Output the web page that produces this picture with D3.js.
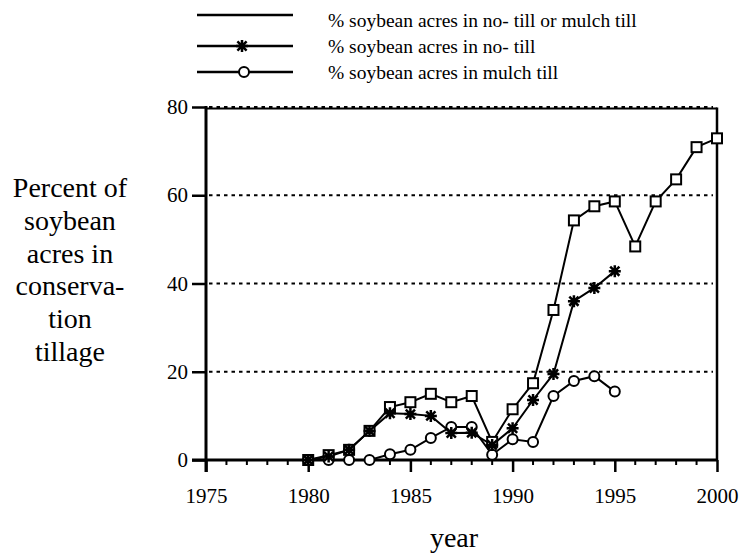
<!DOCTYPE html>
<html>
<head>
<meta charset="utf-8">
<script src="https://cdn.jsdelivr.net/npm/d3@7"></script>
<style>
  html, body { margin: 0; padding: 0; background: #fff; }
  svg { display: block; }
</style>
</head>
<body>
<script>
// ---- Data ----
const years = [1980,1981,1982,1983,1984,1985,1986,1987,1988,1989,1990,1991,1992,1993,1994,1995,1996,1997,1998,1999,2000];
const totalTill = [0,1.1,2.3,6.6,12,13.1,15,13.1,14.5,4.1,11.5,17.4,34,54.3,57.5,58.6,48.4,58.6,63.6,70.9,72.9];
const noTillYears = [1980,1981,1982,1983,1984,1985,1986,1987,1988,1989,1990,1991,1992,1993,1994,1995];
const noTill = [0,0.8,2.3,6.6,10.6,10.4,10,6.1,6.2,3.4,7.2,13.6,19.5,36,39,42.8];
const mulchYears = [1980,1981,1982,1983,1984,1985,1986,1987,1988,1989,1990,1991,1992,1993,1994,1995];
const mulchTill = [0,0,0,0,1.3,2.3,5,7.5,7.5,1.2,4.7,4.1,14.5,17.9,19,15.5];
const xTicks = [1975,1980,1985,1990,1995,2000];
const yTicks = [0,20,40,60,80];
const legendLabels = ["% soybean acres in no- till or mulch till","% soybean acres in no- till","% soybean acres in mulch till"];
const yTitleLines = ["Percent of","soybean","acres in","conserva-","tion","tillage"];
const xTitle = "year";

// ---- Layout ----
const W = 746, H = 553;
const FONT = "Liberation Serif";
const svg = d3.select("body").append("svg").attr("width", W).attr("height", H);
svg.append("rect").attr("width", W).attr("height", H).attr("fill", "#fff");

const x = d3.scaleLinear().domain([1975, 2000]).range([206, 717]);
const y = d3.scaleLinear().domain([0, 80]).range([460, 107]);

// gridlines (dashed)
svg.append("g").selectAll("line").data(yTicks.filter(d => d > 0)).join("line")
  .attr("x1", x(1975) + 3).attr("x2", x(2000) - 4)
  .attr("y1", d => y(d)).attr("y2", d => y(d))
  .attr("stroke", "#000").attr("stroke-width", 2.2).attr("stroke-dasharray", "3.5,4");

// frame top and right
svg.append("line").attr("x1", x(1975)).attr("x2", x(2000)).attr("y1", y(80) + 1.5).attr("y2", y(80) + 1.5)
  .attr("stroke", "#000").attr("stroke-width", 2);
svg.append("line").attr("x1", x(2000)).attr("x2", x(2000)).attr("y1", y(80) + 0.5).attr("y2", y(0))
  .attr("stroke", "#000").attr("stroke-width", 2.5);

// Y axis
const yAxis = d3.axisLeft(y).tickValues(yTicks).tickSize(14).tickPadding(4).tickFormat(d3.format("d"));
const gy = svg.append("g").attr("transform", `translate(${x(1975)},0)`).call(yAxis);
gy.select(".domain").remove();
gy.selectAll(".tick line").attr("stroke-width", 2.5);
gy.selectAll(".tick text").style("font-family", FONT).style("font-size", "21px").attr("fill", "#000");
svg.append("line").attr("x1", x(1975)).attr("x2", x(1975)).attr("y1", y(80) - 1).attr("y2", y(0) + 12)
  .attr("stroke", "#000").attr("stroke-width", 3);

// X axis (major)
const xAxis = d3.axisBottom(x).tickValues(xTicks).tickSize(12).tickPadding(16).tickFormat(d3.format("d"));
const gx = svg.append("g").attr("transform", `translate(0,${y(0)})`).call(xAxis);
gx.select(".domain").remove();
gx.selectAll(".tick line").attr("stroke-width", 2.5);
gx.selectAll(".tick text").style("font-family", FONT).style("font-size", "21px").attr("fill", "#000");
// minor ticks
const minor = d3.range(1976, 2000).filter(d => d % 5 !== 0);
svg.append("g").selectAll("line").data(minor).join("line")
  .attr("x1", d => x(d)).attr("x2", d => x(d)).attr("y1", y(0)).attr("y2", y(0) + 5)
  .attr("stroke", "#000").attr("stroke-width", 2);
svg.append("line").attr("x1", x(1975) - 14).attr("x2", x(2000) + 1).attr("y1", y(0)).attr("y2", y(0))
  .attr("stroke", "#000").attr("stroke-width", 3);

// Titles
svg.append("text").attr("x", 454).attr("y", 547).attr("text-anchor", "middle")
  .style("font-family", FONT).style("font-size", "28px").text(xTitle);
const yt = svg.append("text").attr("text-anchor", "middle").style("font-family", FONT).style("font-size", "28px");
yTitleLines.forEach((t, i) => yt.append("tspan").attr("x", 70).attr("y", 197 + i * 32.8).text(t));

// Lines
const line = d3.line().x(d => x(d[0])).y(d => y(d[1]));
const totalData = years.map((yr, i) => [yr, totalTill[i]]);
const noData = noTillYears.map((yr, i) => [yr, noTill[i]]);
const mulchData = mulchYears.map((yr, i) => [yr, mulchTill[i]]);

const lineStyle = sel => sel.attr("fill", "none").attr("stroke", "#000").attr("stroke-width", 2);
svg.append("path").datum(totalData).attr("d", line).call(lineStyle);
svg.append("path").datum(mulchData).attr("d", line).call(lineStyle);
svg.append("path").datum(noData).attr("d", line).call(lineStyle);

// Markers
const starPath = "M0,-6V6M-6,0H6M-4.6,-4.6L4.6,4.6M-4.6,4.6L4.6,-4.6";
svg.append("g").selectAll("rect").data(totalData).join("rect")
  .attr("x", d => x(d[0]) - 5).attr("y", d => y(d[1]) - 5).attr("width", 10).attr("height", 10)
  .attr("fill", "#fff").attr("stroke", "#000").attr("stroke-width", 2);
svg.append("g").selectAll("circle").data(mulchData).join("circle")
  .attr("cx", d => x(d[0])).attr("cy", d => y(d[1])).attr("r", 5)
  .attr("fill", "#fff").attr("stroke", "#000").attr("stroke-width", 2);
svg.append("g").selectAll("path").data(noData).join("path")
  .attr("transform", d => `translate(${x(d[0])},${y(d[1])})`).attr("d", starPath)
  .attr("fill", "none").attr("stroke", "#000").attr("stroke-width", 2.5);

// Legend
const legY = [15, 46, 72];
const txtOff = [12, 7, 7];
const lg = svg.append("g");
legY.forEach((ly, i) => {
  lg.append("line").attr("x1", 197).attr("x2", 293).attr("y1", ly).attr("y2", ly).attr("stroke", "#000").attr("stroke-width", 2.5);
  lg.append("text").attr("x", 328).attr("y", ly + txtOff[i])
    .style("font-family", FONT).style("font-size", "19.5px").text(legendLabels[i]);
});
lg.append("path").attr("transform", `translate(242,${legY[1]})`).attr("d", starPath)
  .attr("fill", "none").attr("stroke", "#000").attr("stroke-width", 2.5);
lg.append("circle").attr("cx", 244).attr("cy", legY[2]).attr("r", 5).attr("fill", "#fff").attr("stroke", "#000").attr("stroke-width", 2);
</script>
</body>
</html>
